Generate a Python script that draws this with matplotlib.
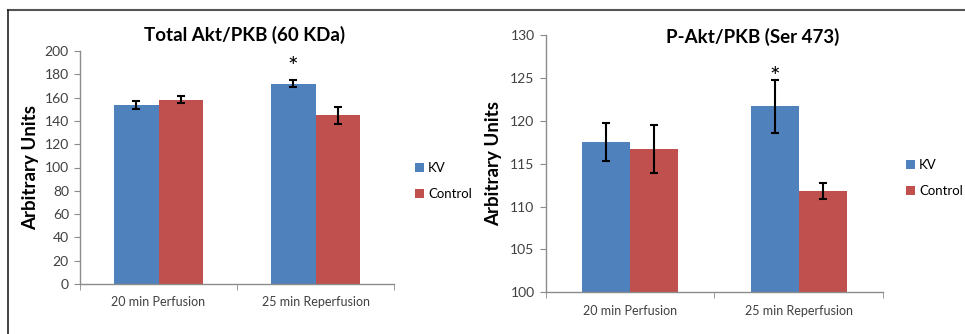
import matplotlib
matplotlib.use("Agg")
import matplotlib.pyplot as plt
from matplotlib.lines import Line2D
import numpy as np

plt.rcParams['font.family'] = ['Lato', 'DejaVu Sans']

categories = ["20 min Perfusion", "25 min Reperfusion"]
series = ["KV", "Control"]

total_kv = [153.6, 172.0]
total_kv_err = [3.5, 3.0]
total_ctrl = [158.0, 144.8]
total_ctrl_err = [3.0, 7.5]

p_kv = [117.5, 121.7]
p_kv_err = [2.2, 3.1]
p_ctrl = [116.7, 111.85]
p_ctrl_err = [2.8, 0.95]

blue = "#4F81BD"
red = "#C0504D"
axis_gray = "#8C8C8C"
text_col = "#404040"

fig = plt.figure(figsize=(9.65, 3.34), dpi=100)

def draw(ax, kv, kve, ct, cte, ylim, yticks, star_y, leg_anchor):
    x = np.arange(len(categories))
    w = 0.285
    ax.bar(x - w / 2, kv, w, color=blue, label=series[0], zorder=2)
    ax.bar(x + w / 2, ct, w, color=red, label=series[1], zorder=2)
    ek = dict(ecolor="black", elinewidth=1.5, capsize=3, capthick=1.5, zorder=3)
    ax.errorbar(x - w / 2, kv, yerr=kve, fmt="none", **ek)
    ax.errorbar(x + w / 2, ct, yerr=cte, fmt="none", **ek)
    ax.set_xlim(-0.5, 1.5)
    ax.set_ylim(*ylim)
    ax.set_yticks(yticks)
    ax.set_xticks(x)
    ax.set_xticklabels(categories)
    ax.set_xticks([-0.5, 0.5, 1.5], minor=True)
    ax.tick_params(axis="x", which="major", length=0, pad=9, labelsize=9, colors=text_col)
    ax.tick_params(axis="x", which="minor", length=4, color=axis_gray, direction="out")
    ax.tick_params(axis="y", length=4, color=axis_gray, labelsize=10, colors=text_col, pad=4)
    for s in ["top", "right"]:
        ax.spines[s].set_visible(False)
    for s in ["left", "bottom"]:
        ax.spines[s].set_color(axis_gray)
        ax.spines[s].set_linewidth(1.0)
    ax.set_ylabel("Arbitrary Units", fontsize=13.5, fontweight="bold", color="black")
    ax.yaxis.set_label_coords(-0.13, 0.5)
    ax.text(1 - w / 2, star_y, "*", ha="center", va="center", fontsize=18, color="black")
    ax.legend(loc="center left", bbox_to_anchor=leg_anchor, frameon=False,
              fontsize=9.5, handlelength=0.7, handleheight=0.7, handletextpad=0.3,
              labelspacing=1.05, borderaxespad=0, borderpad=0)
    return ax

ax1 = fig.add_axes([80 / 965, 1 - 284 / 334, (394 - 80) / 965, (284 - 51) / 334])
draw(ax1, total_kv, total_kv_err, total_ctrl, total_ctrl_err, (0, 200),
     np.arange(0, 201, 20), 186, (1.067, 0.442))
fig.text(245 / 965, 1 - 35 / 334, "Total Akt/PKB (60 KDa)", ha="center", va="center",
         fontsize=13.5, fontweight="bold")

ax2 = fig.add_axes([545.7 / 965, 1 - 292.3 / 334, (883 - 545.7) / 965, (292.3 - 35) / 334])
draw(ax2, p_kv, p_kv_err, p_ctrl, p_ctrl_err, (100, 130),
     np.arange(100, 131, 5), 125.1, (1.068, 0.444))
fig.text(753 / 965, 1 - 37 / 334, "P-Akt/PKB (Ser 473)", ha="center", va="center",
         fontsize=13.5, fontweight="bold")

# outer frame lines
fig.add_artist(Line2D([8 / 965, 1.0], [1 - 10 / 334, 1 - 10 / 334], color="#555555", lw=1.5,
                      transform=fig.transFigure))
fig.add_artist(Line2D([8 / 965, 8 / 965], [0, 1 - 10 / 334], color="#222222", lw=1.2,
                      transform=fig.transFigure))

fig.savefig("out.png", dpi=100)
